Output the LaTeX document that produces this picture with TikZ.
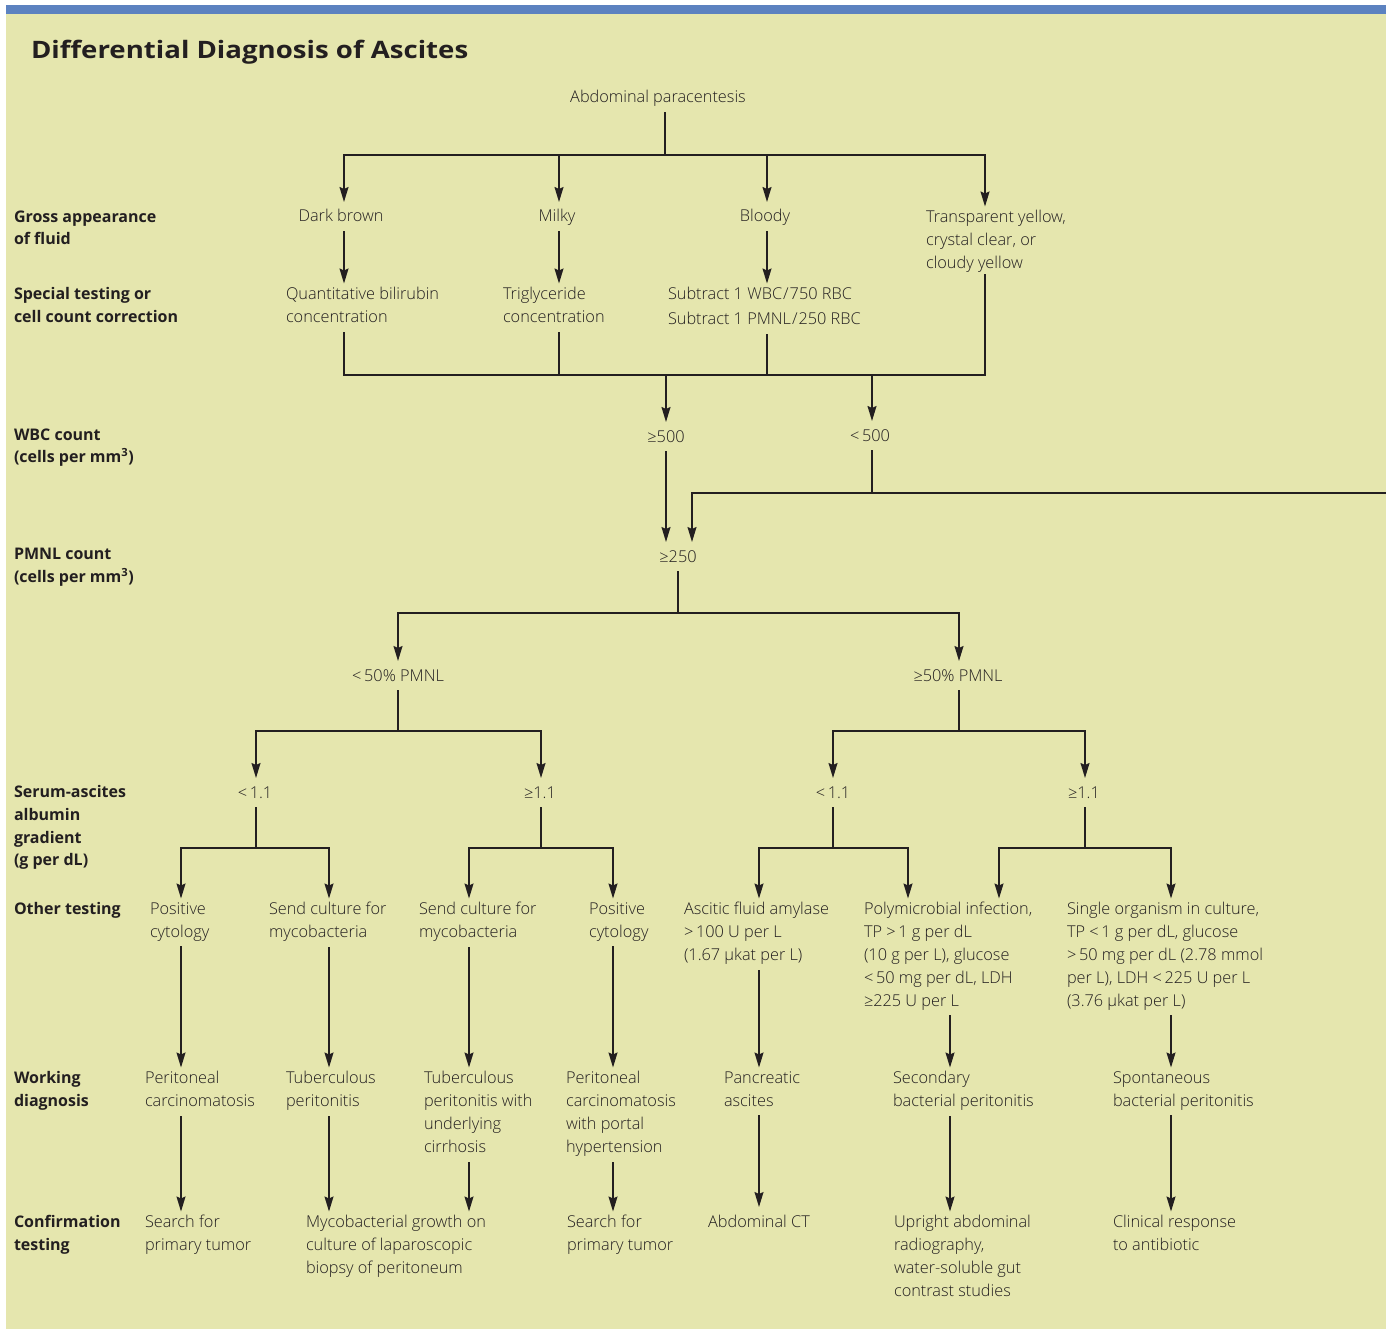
\documentclass[tikz,border=0pt]{standalone}
\usepackage{fontspec}
\setmainfont{Open Sans}[UprightFont={* Light}, BoldFont={* Bold}]
\newfontfamily\titlef{Open Sans}[FakeStretch=1.15]
\usetikzlibrary{arrows.meta}
\definecolor{bg}{RGB}{229,230,174}
\definecolor{bar}{RGB}{92,130,192}
\definecolor{ink}{RGB}{35,31,32}
\begin{document}
\begin{tikzpicture}[x=1pt,y=-1pt,
  every node/.style={inner sep=0pt, outer sep=0pt, text=ink},
  txt/.style={font=\fontsize{16.3}{22.8}\selectfont, yshift=16pt,
    execute at begin node={\rule{0pt}{16pt}},
    execute at end node={\rule[-6pt]{0pt}{6pt}}},
  lt/.style={txt, align=left, anchor=north west},
  ct/.style={txt, align=center, anchor=north},
  ml/.style={yshift=-4.5pt},
  lab/.style={lt, font=\fontsize{16}{22.7}\selectfont\bfseries},
  link/.style={draw=ink, line width=1.4pt, line cap=rect},
  fromn/.style={shorten <=4pt},
  arr/.style={link, -{Stealth[length=15pt,width=9pt,inset=2pt]}, shorten >=4pt}
]
\useasboundingbox (0,0) rectangle (1386,1329);
\fill[bg] (6,5) rectangle (1386,1329);
\fill[bar] (6,5) rectangle (1386,14);

\node[anchor=base west, font=\titlef\bfseries\fontsize{24}{28}\selectfont] (title) at (31,59) {Differential Diagnosis of Ascites};

% row labels
\node[lab, ml] (l1) at (14,222) {Gross appearance\\of fluid};
\node[lab, ml] (l2) at (14,299) {Special testing or\\cell count correction};
\node[lab, ml] (l3) at (14,440) {WBC count\\(cells per mm\textsuperscript{3})};
\node[lab, ml] (l4) at (14,560) {PMNL count\\(cells per mm\textsuperscript{3})};
\node[lab, ml] (l5) at (14,797) {Serum-ascites\\albumin\\gradient\\(g per dL)};
\node[lab] (l6) at (14,914) {Other testing};
\node[lab, ml] (l7) at (14,1083) {Working\\diagnosis};
\node[lab, ml] (l8) at (14,1227) {Confirmation\\testing};

% top
\node[ct] (para) at (658,103) {Abdominal paracentesis};
\node[ct] (dark) at (341,222) {Dark brown};
\node[ct] (milky) at (557,222) {Milky};
\node[ct] (bloody) at (765,222) {Bloody};
\node[lt, ml] (transp) at (926,222) {Transparent yellow,\\crystal clear, or\\cloudy yellow};
\node[lt, ml] (quant) at (286,299) {Quantitative bilirubin\\concentration};
\node[lt, ml] (trig) at (503,299) {Triglyceride\\concentration};
\node[lt, ml] (subt) at (668,299) {Subtract 1 WBC\kern1pt/\kern1pt750 RBC\\[2.2pt]Subtract 1 PMNL\kern1pt/\kern1pt250 RBC};
\node[ct] (ge500) at (666,442) {≥500};
\node[ct] (lt500) at (870,441) {<\,500};
\node[ct] (ge250) at (678,562) {≥250};
\node[ct] (pl50) at (398,681) {<\,50\% PMNL};
\node[ct] (pg50) at (958,681) {≥50\% PMNL};
\node[ct] (s1) at (255,798) {<\,1.1};
\node[ct] (s2) at (540,798) {≥1.1};
\node[ct] (s3) at (833,798) {<\,1.1};
\node[ct] (s4) at (1084,798) {≥1.1};

% other testing
\node[lt, ml] (o1) at (150,914) {Positive\\cytology};
\node[lt, ml] (o2) at (269,914) {Send culture for\\mycobacteria};
\node[lt, ml] (o3) at (419,914) {Send culture for\\mycobacteria};
\node[lt, ml] (o4) at (589,914) {Positive\\cytology};
\node[lt, ml] (o5) at (684,914) {Ascitic fluid amylase\\>\,100 U per L\\(1.67 µkat per L)};
\node[lt, ml] (o6) at (864,914) {Polymicrobial infection,\\TP >\,1 g per dL\\(10 g per L), glucose\\<\,50 mg per dL, LDH\\≥225 U per L};
\node[lt, ml] (o7) at (1067,914) {Single organism in culture,\\TP <\,1 g per dL, glucose\\>\,50 mg per dL (2.78 mmol\\per L), LDH <\,225 U per L\\(3.76 µkat per L)};

% working diagnosis
\node[lt, ml] (w1) at (145,1083) {Peritoneal\\carcinomatosis};
\node[lt, ml] (w2) at (286,1083) {Tuberculous\\peritonitis};
\node[lt, ml] (w3) at (424,1083) {Tuberculous\\peritonitis with\\underlying\\cirrhosis};
\node[lt, ml] (w4) at (566,1083) {Peritoneal\\carcinomatosis\\with portal\\hypertension};
\node[lt, ml] (w5) at (724,1083) {Pancreatic\\ascites};
\node[lt, ml] (w6) at (893,1083) {Secondary\\bacterial peritonitis};
\node[lt, ml] (w7) at (1113,1083) {Spontaneous\\bacterial peritonitis};

% confirmation
\node[lt, ml] (c1) at (145,1227) {Search for\\primary tumor};
\node[lt, ml] (c2) at (306,1227) {Mycobacterial growth on\\culture of laparoscopic\\biopsy of peritoneum};
\node[lt, ml] (c3) at (567,1227) {Search for\\primary tumor};
\node[ct] (c4) at (759,1227) {Abdominal CT};
\node[lt, ml] (c5) at (894,1227) {Upright abdominal\\radiography,\\water-soluble gut\\contrast studies};
\node[lt, ml] (c6) at (1113,1227) {Clinical response\\to antibiotic};

% junction coordinates
\coordinate (j0) at (665,155);
\coordinate (a1) at (344,155);
\coordinate (a2) at (559,155);
\coordinate (a3) at (767,155);
\coordinate (a4) at (985,155);
\coordinate (b1) at (344,375);
\coordinate (b2) at (666,375);
\coordinate (b3) at (872,375);
\coordinate (b4) at (985,375);
\coordinate (d1) at (692,493);
\coordinate (dR) at (1386,493);
\coordinate (e0) at (678,613);
\coordinate (e1) at (398,613);
\coordinate (e2) at (959,613);
\coordinate (f0) at (398,731);
\coordinate (f1) at (256,731);
\coordinate (f2) at (541,731);
\coordinate (g0) at (959,731);
\coordinate (g1) at (833,731);
\coordinate (g2) at (1085,731);
\coordinate (h0) at (256,848);
\coordinate (h1) at (181,848);
\coordinate (h2) at (329,848);
\coordinate (i0) at (541,848);
\coordinate (i1) at (469,848);
\coordinate (i2) at (613,848);
\coordinate (k0) at (833,848);
\coordinate (k1) at (759,848);
\coordinate (k2) at (908,848);
\coordinate (m0) at (1085,848);
\coordinate (m1) at (999,848);
\coordinate (m2) at (1171,848);
\coordinate (x6) at (950,848);

% paracentesis fan-out
\draw[link, fromn] (j0 |- para.south) -- (j0);
\draw[link] (a1) -- (a4);
\draw[arr] (a1) -- (a1 |- dark.north);
\draw[arr] (a2) -- (a2 |- milky.north);
\draw[arr] (a3) -- (a3 |- bloody.north);
\draw[arr] (a4) -- (a4 |- transp.north);

% gross -> special
\draw[arr, fromn] (a1 |- dark.south) -- (a1 |- quant.north);
\draw[arr, fromn] (a2 |- milky.south) -- (a2 |- trig.north);
\draw[arr, fromn] (a3 |- bloody.south) -- (a3 |- subt.north);

% merge
\draw[link, fromn] (a1 |- quant.south) -- (b1) -- (b4) -- (a4 |- transp.south);
\draw[link, fromn] (a2 |- trig.south) -- (a2 |- b1);
\draw[link, fromn] (a3 |- subt.south) -- (a3 |- b1);
\draw[arr] (b2) -- (b2 |- ge500.north);
\draw[arr] (b3) -- (b3 |- lt500.north);

% WBC -> PMNL
\draw[arr, fromn] (b2 |- ge500.south) -- (b2 |- ge250.north);
\draw[link, fromn] (b3 |- lt500.south) -- (b3 |- d1);
\draw[arr] (dR) -- (d1) -- (d1 |- ge250.north);

% PMNL split
\draw[link, fromn] (e0 |- ge250.south) -- (e0);
\draw[arr] (e0) -- (e1) -- (e1 |- pl50.north);
\draw[arr] (e0) -- (e2) -- (e2 |- pg50.north);

\draw[link, fromn] (f0 |- pl50.south) -- (f0);
\draw[arr] (f0) -- (f1) -- (f1 |- s1.north);
\draw[arr] (f0) -- (f2) -- (f2 |- s2.north);
\draw[link, fromn] (g0 |- pg50.south) -- (g0);
\draw[arr] (g0) -- (g1) -- (g1 |- s3.north);
\draw[arr] (g0) -- (g2) -- (g2 |- s4.north);

% SAAG split
\draw[link, fromn] (h0 |- s1.south) -- (h0);
\draw[arr] (h0) -- (h1) -- (h1 |- o1.north);
\draw[arr] (h0) -- (h2) -- (h2 |- o2.north);
\draw[link, fromn] (i0 |- s2.south) -- (i0);
\draw[arr] (i0) -- (i1) -- (i1 |- o3.north);
\draw[arr] (i0) -- (i2) -- (i2 |- o4.north);
\draw[link, fromn] (k0 |- s3.south) -- (k0);
\draw[arr] (k0) -- (k1) -- (k1 |- o5.north);
\draw[arr] (k0) -- (k2) -- (k2 |- o6.north);
\draw[link, fromn] (m0 |- s4.south) -- (m0);
\draw[arr] (m0) -- (m1) -- (m1 |- o6.north);
\draw[arr] (m0) -- (m2) -- (m2 |- o7.north);

% other testing -> working diagnosis
\draw[arr, fromn] (h1 |- o1.south) -- (h1 |- w1.north);
\draw[arr, fromn] (h2 |- o2.south) -- (h2 |- w2.north);
\draw[arr, fromn] (i1 |- o3.south) -- (i1 |- w3.north);
\draw[arr, fromn] (i2 |- o4.south) -- (i2 |- w4.north);
\draw[arr, fromn] (k1 |- o5.south) -- (k1 |- w5.north);
\draw[arr, fromn] (x6 |- o6.south) -- (x6 |- w6.north);
\draw[arr, fromn] (m2 |- o7.south) -- (m2 |- w7.north);

% working diagnosis -> confirmation
\draw[arr, fromn] (h1 |- w1.south) -- (h1 |- c1.north);
\draw[arr, fromn] (h2 |- w2.south) -- (h2 |- c2.north);
\draw[arr, fromn] (i1 |- w3.south) -- (i1 |- c2.north);
\draw[arr, fromn] (i2 |- w4.south) -- (i2 |- c3.north);
\draw[arr, fromn] (k1 |- w5.south) -- (k1 |- c4.north);
\draw[arr, fromn] (x6 |- w6.south) -- (x6 |- c5.north);
\draw[arr, fromn] (m2 |- w7.south) -- (m2 |- c6.north);
\end{tikzpicture}
\end{document}
